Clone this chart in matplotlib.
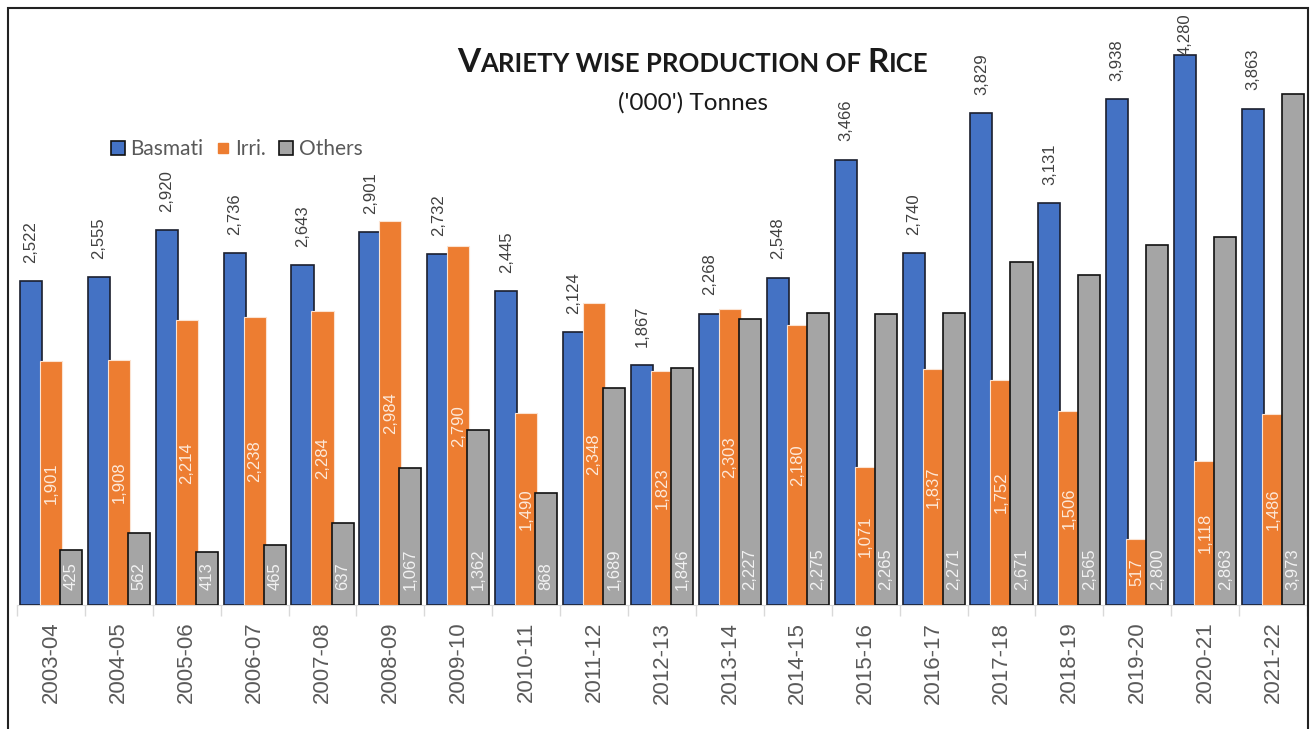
import matplotlib
matplotlib.use('Agg')
import matplotlib.pyplot as plt
import matplotlib.patches as mpatches
from matplotlib.lines import Line2D
import numpy as np

# data ('000' tonnes)
years = ['2003-04', '2004-05', '2005-06', '2006-07', '2007-08', '2008-09', '2009-10',
         '2010-11', '2011-12', '2012-13', '2013-14', '2014-15', '2015-16', '2016-17',
         '2017-18', '2018-19', '2019-20', '2020-21', '2021-22']
basmati = [2522, 2555, 2920, 2736, 2643, 2901, 2732, 2445, 2124, 1867,
           2268, 2548, 3466, 2740, 3829, 3131, 3938, 4280, 3863]
irri = [1901, 1908, 2214, 2238, 2284, 2984, 2790, 1490, 2348, 1823,
        2303, 2180, 1071, 1837, 1752, 1506, 517, 1118, 1486]
others = [425, 562, 413, 465, 637, 1067, 1362, 868, 1689, 1846,
          2227, 2275, 2265, 2271, 2671, 2565, 2800, 2863, 3973]

blue = '#4472C4'
orange = '#ED7D31'
grey = '#A5A5A5'

W, H = 1314, 729
fig = plt.figure(figsize=(W / 100, H / 100), dpi=100)
ax_h = 605 - 8  # axes height in px
ax = fig.add_axes([17 / W, (H - 605) / H, (1307 - 17) / W, ax_h / H])

x = np.arange(len(years))
w = 0.325
off = 0.295
ytop = 4645
ax.bar(x - off, basmati, w, color=blue, edgecolor='#1b1f2e', linewidth=1.2, zorder=2)
ax.bar(x, irri, w, color=orange, edgecolor='#fbe3d2', linewidth=0.8, zorder=3)
ax.bar(x + off, others, w, color=grey, edgecolor='#111111', linewidth=1.2, zorder=4)

ax.set_xlim(-0.5, len(years) - 0.5)
ax.set_ylim(0, ytop)

# data labels
lab = dict(family='Liberation Sans', fontsize=12, rotation=90, ha='center')
pt_per_unit = ax_h / ytop * 0.72
for xi, v in zip(x, basmati):
    # keep the label inside the plot area, like Excel does for the tallest bar
    room = (ytop - v) * pt_per_unit - 30 - 4
    dy = min(13, max(0, room))
    ax.annotate(f'{v:,}', (xi - off, v), xytext=(0, dy), textcoords='offset points',
                va='bottom', color='#404040', zorder=6, **lab)
for xi, v in zip(x, irri):
    ax.text(xi, v / 2, f'{v:,}', va='center', color='#fde9d9', zorder=6, **lab)
for xi, v in zip(x, others):
    ax.annotate(f'{v:,}', (xi + off, 0), xytext=(0, 11), textcoords='offset points',
                va='bottom', color='#f2f2f2', zorder=6, **lab)

# axes styling
for s in ['left', 'top', 'right']:
    ax.spines[s].set_visible(False)
ax.spines['bottom'].set_color('#d9d9d9')
ax.spines['bottom'].set_zorder(1)
ax.yaxis.set_visible(False)
ax.set_xticks(x)
ax.set_xticklabels(years, rotation=90, fontsize=16, color='#595959', family='Liberation Sans')
ax.tick_params(axis='x', which='major', length=0, pad=12)
ax.set_xticks(np.arange(-0.5, len(years), 1), minor=True)
ax.tick_params(axis='x', which='minor', length=8, color='#d9d9d9', width=1)

# legend
handles = [
    Line2D([], [], marker='s', ls='none', markersize=9.5, markerfacecolor=blue,
           markeredgecolor='#111111', markeredgewidth=1.2),
    Line2D([], [], marker='s', ls='none', markersize=7.5, markerfacecolor=orange,
           markeredgecolor=orange),
    Line2D([], [], marker='s', ls='none', markersize=9.5, markerfacecolor=grey,
           markeredgecolor='#111111', markeredgewidth=1.2),
]
leg = fig.legend(handles, ['Basmati', 'Irri.', 'Others'], ncol=3, frameon=False,
                 loc='center left', bbox_to_anchor=(100 / W, 1 - 149 / H),
                 prop={'family': 'Lato', 'size': 15}, handlelength=0.7,
                 handletextpad=0.25, columnspacing=0.6, borderpad=0)
for t in leg.get_texts():
    t.set_color('#595959')

# small-caps title built from pieces
pieces = [('V', 24), ('ARIETY WISE PRODUCTION OF ', 18.5), ('R', 24), ('ICE', 18.5)]
renderer = fig.canvas.get_renderer()
texts = []
for s, size in pieces:
    t = fig.text(0, 1 - 72 / H, s, fontsize=size, fontweight='bold', family='Lato',
                 color='#1a1a1a', va='baseline', ha='left')
    texts.append(t)
widths = [t.get_window_extent(renderer).width for t in texts]
start = 693 - sum(widths) / 2
for t, wd in zip(texts, widths):
    t.set_x(start / W)
    start += wd

fig.text(693 / W, 1 - 103 / H, "('000') Tonnes", fontsize=17.5, family='Lato',
         color='#1a1a1a', ha='center', va='center')

# outer frame
fig.patches.append(mpatches.Rectangle((8 / W, -0.02), 1300 / W, (H - 8) / H + 0.02,
                                      transform=fig.transFigure, fill=False,
                                      edgecolor='#222222', linewidth=1.5))

fig.savefig('out.png', dpi=100)
